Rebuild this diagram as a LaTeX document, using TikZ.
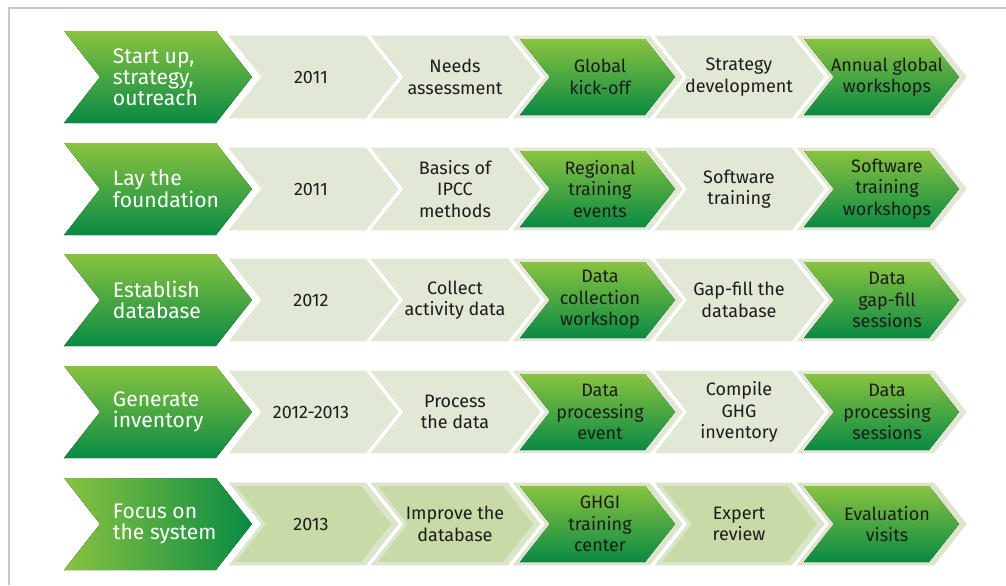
\documentclass[tikz,border=0pt]{standalone}
\usepackage{fontspec}
\setmainfont{Fira Sans}
\usepackage{tikz}
\usetikzlibrary{calc}
\definecolor{leafgreen}{RGB}{137, 195, 64}
\definecolor{forestgreen}{RGB}{9, 138, 67}
\definecolor{paleleaf}{RGB}{225, 232, 214}
\definecolor{haloleaf}{RGB}{219, 229, 204}
\definecolor{sageleaf}{RGB}{200, 218, 165}
\definecolor{framegray}{RGB}{200, 200, 200}
\definecolor{inkgray}{RGB}{28, 28, 28}

% chevron: left edge, right edge, centre line, half height, point length
\newcommand{\chev}[5]{({#1},{#3-#4}) -- ({#2},{#3-#4}) -- ({#2+#5},{#3}) -- ({#2},{#3+#4}) -- ({#1},{#3+#4}) -- ({#1+#5},{#3}) -- cycle}

\tikzset{
  headfill/.style={top color=leafgreen, bottom color=forestgreen},
  greenfill/.style={top color=leafgreen, bottom color=forestgreen},
  paleseg/.style={fill=paleleaf, draw=white, line width=0.8mm},
  paleinner/.style={fill=paleleaf},
  headtext/.style={anchor=west, align=left, text=white, font=\fontsize{15}{14.8}\selectfont},
  steptext/.style={align=center, text=inkgray, font=\fontsize{12.8}{15.4}\selectfont},
}

% one row: name, centre line, heading, then the five steps
\newcommand{\steprow}[8]{%
  \fill[headfill] \chev{64}{216}{#2}{46}{36};
  \node[headtext] (#1) at (108,#2) {#3};
  \foreach \i/\kind in {0/paleinner,1/paleinner,2/greenfill,3/paleinner,4/greenfill}{
    \filldraw[paleseg] \chev{225+142*\i}{367+142*\i}{#2}{43}{34};
    \fill[\kind] \chev{236+142*\i}{361+142*\i}{#2}{38}{30};
  }
  \node[steptext] (#1-1) at (311,#2) {#4};
  \node[steptext] (#1-2) at (455,#2) {#5};
  \node[steptext] (#1-3) at (600,#2) {#6};
  \node[steptext] (#1-4) at (739,#2) {#7};
  \node[steptext] (#1-5) at (887,#2) {#8};
}

\begin{document}
\begin{tikzpicture}[x=0.25mm, y=-0.25mm]
\useasboundingbox (0,0) rectangle (1006,585);
\draw[framegray, line width=0.5mm] (9,585) -- (9,8) -- (1006,8);

\steprow{start}{77}{Start up,\\strategy,\\outreach}{2011}{Needs\\assessment}{Global\\kick-off}{Strategy\\development}{Annual global\\workshops}
\steprow{found}{189}{Lay the\\foundation}{2011}{Basics of\\IPCC\\methods}{Regional\\training\\events}{Software\\training}{Software\\training\\workshops}
\steprow{base}{300}{Establish\\database}{2012}{Collect\\activity data}{Data\\collection\\workshop}{Gap-fill the\\database}{Data\\gap-fill\\sessions}
\steprow{inv}{412}{Generate\\inventory}{2012-2013}{Process\\the data}{Data\\processing\\event}{Compile\\GHG\\inventory}{Data\\processing\\sessions}

\begin{scope}[headfill/.style={left color=leafgreen, right color=forestgreen},
  paleseg/.style={fill=haloleaf, draw=white, line width=0.8mm},
  paleinner/.style={fill=sageleaf}]
\steprow{focus}{524}{Focus on\\the system}{2013}{Improve the\\database}{GHGI\\training\\center}{Expert\\review}{Evaluation\\visits}
\end{scope}

\end{tikzpicture}
\end{document}
